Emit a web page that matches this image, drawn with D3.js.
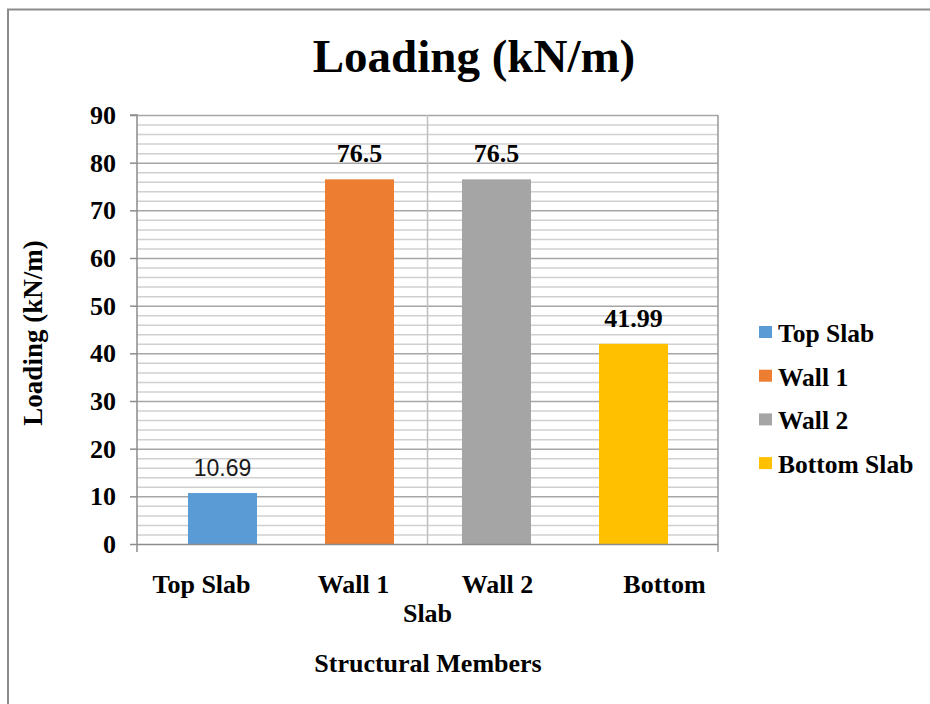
<!DOCTYPE html>
<html><head><meta charset="utf-8">
<script src="https://cdn.jsdelivr.net/npm/d3@7/dist/d3.min.js"></script>
<style>body{margin:0;background:#fff}svg{display:block}</style>
</head><body>
<script>
const categories = ["Top Slab", "Wall 1", "Wall 2", "Bottom Slab"];
const values = [10.69, 76.5, 76.5, 41.99];
const valueLabels = ["10.69", "76.5", "76.5", "41.99"];
const colors = ["#5b9bd5", "#ed7d31", "#a5a5a5", "#ffc000"];
const yTicks = [0, 10, 20, 30, 40, 50, 60, 70, 80, 90];
const xTickLines = [["Top Slab"], ["Wall 1"], ["Wall 2"], ["Bottom", "Slab"]];
const title = "Loading (kN/m)";
const yTitle = "Loading (kN/m)";
const xTitle = "Structural Members";

const W = 930, H = 704;
const serif = "'Liberation Serif','Times New Roman',serif";
const svg = d3.select("body").append("svg").attr("width", W).attr("height", H);

// outer chart border (cropped at right and bottom)
svg.append("rect").attr("x", 8).attr("y", 9.5).attr("width", 940).attr("height", 720)
  .attr("fill", "none").attr("stroke", "#8c8c8c").attr("stroke-width", 2);

const L = 137, R = 718, T = 115, B = 544;
const y = d3.scaleLinear().domain([0, 90]).range([B, T]);
const x = d3.scaleBand().domain(categories).range([154, 702]).paddingInner(0.496).paddingOuter(0.248);

// minor gridlines
const minor = d3.range(2, 90, 2).filter(v => v % 10 !== 0);
svg.append("g").selectAll("line").data(minor).join("line")
  .attr("x1", L).attr("x2", R).attr("y1", d => y(d) + 0.5).attr("y2", d => y(d) + 0.5)
  .attr("stroke", "#d0d0d0").attr("stroke-width", 1.5);
// major gridlines
svg.append("g").selectAll("line").data(yTicks.filter(d => d > 0)).join("line")
  .attr("x1", L).attr("x2", R).attr("y1", d => y(d) + 0.5).attr("y2", d => y(d) + 0.5)
  .attr("stroke", "#a6a6a6").attr("stroke-width", 1.5);
// vertical gridline at middle & right border
svg.append("line").attr("x1", (L + R) / 2).attr("x2", (L + R) / 2).attr("y1", T).attr("y2", B)
  .attr("stroke", "#bfbfbf").attr("stroke-width", 1.5);
svg.append("line").attr("x1", R).attr("x2", R).attr("y1", T).attr("y2", B + 8)
  .attr("stroke", "#999").attr("stroke-width", 1.5);

// bars
svg.append("g").selectAll("rect").data(categories).join("rect")
  .attr("x", d => x(d)).attr("width", x.bandwidth())
  .attr("y", (d, i) => y(values[i])).attr("height", (d, i) => B - y(values[i]))
  .attr("fill", (d, i) => colors[i]);

// y axis
const yAxis = d3.axisLeft(y).tickValues(yTicks).tickSize(7).tickPadding(14).tickFormat(d3.format("d"));
const ga = svg.append("g").attr("transform", `translate(${L},0)`).call(yAxis);
ga.select(".domain").attr("stroke", "#8c8c8c").attr("stroke-width", 1.5).attr("d", `M-7,${T}H0V${B + 8}`);
ga.selectAll(".tick line").attr("stroke", "#8c8c8c").attr("stroke-width", 1.5);
ga.selectAll(".tick text").attr("font-family", serif).attr("font-weight", "bold").attr("font-size", 26).attr("fill", "#000").attr("dy", "0.33em");

// x axis line
svg.append("line").attr("x1", L).attr("x2", R).attr("y1", B + 0.5).attr("y2", B + 0.5)
  .attr("stroke", "#8c8c8c").attr("stroke-width", 1.5);

// x tick labels (Excel-style placement)
const tickDx = [-21, -6, 1, 31];
const xt = svg.append("g").attr("font-family", serif).attr("font-weight", "bold").attr("font-size", 26).attr("text-anchor", "middle");
xTickLines.forEach((lines, i) => {
  const cx = x(categories[i]) + x.bandwidth() / 2;
  xt.append("text").attr("x", cx + tickDx[i]).attr("y", 593).text(lines[0]);
  if (lines[1]) xt.append("text").attr("x", (L + R) / 2).attr("y", 622).text(lines[1]);
});

// data labels
svg.append("g").selectAll("text").data(categories).join("text")
  .attr("x", d => x(d) + x.bandwidth() / 2)
  .attr("y", (d, i) => y(values[i]) - 17)
  .attr("text-anchor", "middle")
  .attr("font-family", (d, i) => i === 0 ? "'Liberation Sans',Arial,sans-serif" : serif)
  .attr("font-weight", (d, i) => i === 0 ? "normal" : "bold")
  .attr("font-size", (d, i) => i === 0 ? 23 : 26)
  .attr("fill", (d, i) => i === 0 ? "#1a1a1a" : "#000")
  .text((d, i) => valueLabels[i]);

// title
svg.append("text").attr("x", 474).attr("y", 72).attr("text-anchor", "middle")
  .attr("font-family", serif).attr("font-weight", "bold").attr("font-size", 47).text(title);

// y title
svg.append("text").attr("transform", `translate(42,333) rotate(-90)`).attr("text-anchor", "middle")
  .attr("font-family", serif).attr("font-weight", "bold").attr("font-size", 27).text(yTitle);

// x title
svg.append("text").attr("x", 428).attr("y", 672).attr("text-anchor", "middle")
  .attr("font-family", serif).attr("font-weight", "bold").attr("font-size", 26).text(xTitle);

// legend
const lg = svg.append("g").attr("transform", "translate(759,0)");
categories.forEach((c, i) => {
  const by = 342 + i * 43.7;
  lg.append("rect").attr("x", 0).attr("y", by - 16).attr("width", 13).attr("height", 12).attr("fill", colors[i]);
  lg.append("text").attr("x", 19).attr("y", by).attr("font-family", serif).attr("font-weight", "bold")
    .attr("font-size", 25.5).text(c);
});
</script>
</body></html>
